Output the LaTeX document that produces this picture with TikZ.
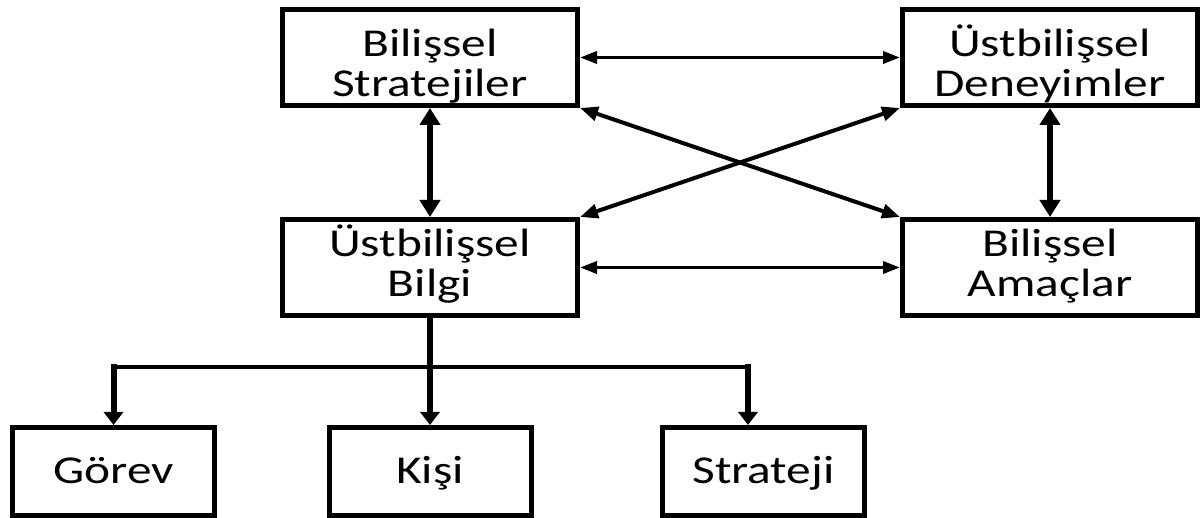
\documentclass[tikz,border=0pt]{standalone}
\usepackage{fontspec}
\setmainfont{Carlito}
\newfontfamily\boxfont[FakeStretch=1.25]{Carlito}
\usetikzlibrary{arrows.meta}

% two-line caption with fixed vertical extent
\newcommand\twolines[2]{\rule{0pt}{34pt}#1\\#2\rule[-10pt]{0pt}{10pt}}

\tikzset{
  box/.style={draw, line width=5pt, rectangle, inner sep=0pt},
  bigbox/.style={box, minimum width=295pt, minimum height=96pt},
  smallbox/.style={box, minimum width=202pt, minimum height=88pt,
    font=\boxfont\fontsize{39.5}{40}\selectfont, text height=25pt, text depth=0pt},
  lbl/.style={inner sep=0pt, align=center, font=\boxfont\fontsize{39.5}{40}\selectfont},
  hdbl/.style={line width=3.5pt,
    {Triangle[length=17pt,width=12pt]}-{Triangle[length=17pt,width=12pt]}},
  vdbl/.style={line width=6pt,
    {Triangle[length=17pt,width=20pt]}-{Triangle[length=17pt,width=20pt]}},
  diag/.style={line width=4pt,
    {Triangle[length=18pt,width=14pt]}-{Triangle[length=18pt,width=14pt]}},
  drop/.style={line width=6pt, line cap=rect, -{Triangle[length=13pt,width=19pt]}},
  bar/.style={line width=4pt, line cap=rect},
}

\begin{document}
\begin{tikzpicture}[x=1pt,y=1pt]
\useasboundingbox (0,0) rectangle (1200,-518);

% upper two rows
\node[bigbox] (bs) at (430,-57.5) {};
\node[bigbox] (ud) at (1050,-57.5) {};
\node[bigbox] (ub) at (430,-267.5) {};
\node[bigbox] (ba) at (1050,-267.5) {};
\node[lbl] (bs-t) at (430,-65) {\twolines{Bilişsel}{Stratejiler}};
\node[lbl] (ud-t) at (1050,-65) {\twolines{Üstbilişsel}{Deneyimler}};
\node[lbl] (ub-t) at (430,-265) {\twolines{Üstbilişsel}{Bilgi}};
\node[lbl] (ba-t) at (1050,-265) {\twolines{Bilişsel}{Amaçlar}};

% bottom row
\node[smallbox] (gv) at (113.5,-471.5) {Görev};
\node[smallbox] (ki) at (430,-471.5) {Kişi};
\node[smallbox] (st) at (763.5,-471.5) {Strateji};

% links among the four upper boxes
\draw[hdbl] (bs) -- (ud);
\draw[hdbl] (ub) -- (ba);
\draw[vdbl] (bs) -- (ub);
\draw[vdbl] (ud) -- (ba);
\draw[diag] (bs.south east) -- (ba.north west);
\draw[diag] (ud.south west) -- (ub.north east);

% tree below the knowledge box
\coordinate (jl) at (113.5,-367.5);
\coordinate (jr) at (748,-367.5);
\draw[bar] (jl) -- (jr);
\draw[drop] (ub) -- (ki);
\draw[drop] (jl) -- (gv.north);
\draw[drop] (jr) -- (jr |- st.north);
\end{tikzpicture}
\end{document}
